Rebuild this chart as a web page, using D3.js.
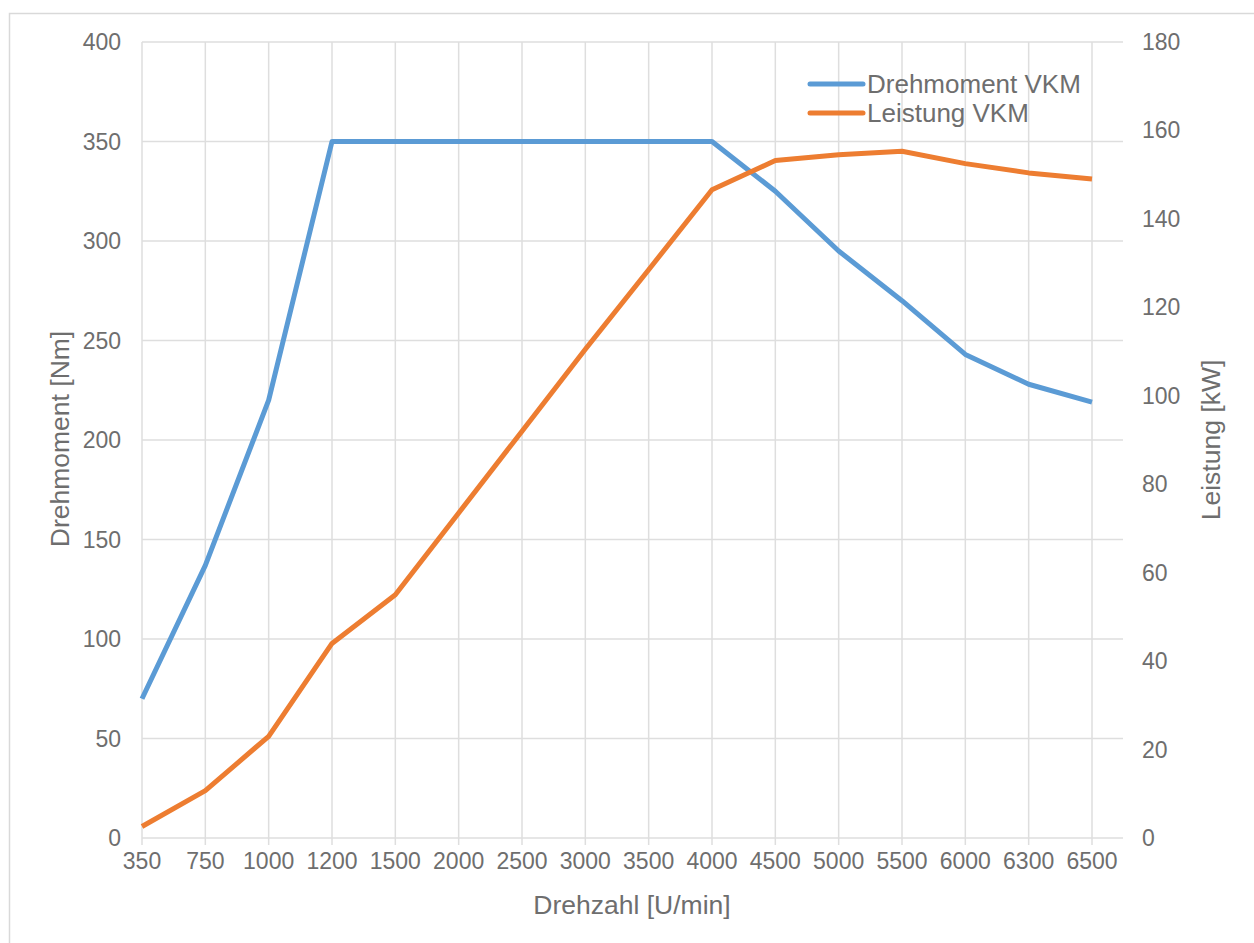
<!DOCTYPE html>
<html>
<head>
<meta charset="utf-8">
<script src="https://cdn.jsdelivr.net/npm/d3@7"></script>
<style>
  html, body { margin: 0; padding: 0; background: #fff; }
  svg { display: block; font-family: "Liberation Sans", Arial, sans-serif; }
</style>
</head>
<body>
<svg id="chart" width="1254" height="943"></svg>
<script>
// Engine speed categories [U/min]
const speeds = ["350", "750", "1000", "1200", "1500", "2000", "2500", "3000", "3500", "4000", "4500", "5000", "5500", "6000", "6300", "6500"];
// Torque [Nm]
const torque = [70, 137, 220, 350, 350, 350, 350, 350, 350, 350, 325, 295, 270, 243, 228, 219];
// Power [kW]
const power = [2.6, 10.7, 23.0, 44.0, 55.0, 73.5, 92.0, 110.5, 128.5, 146.6, 153.2, 154.5, 155.3, 152.5, 150.4, 149.0];
const torqueTicks = [0, 50, 100, 150, 200, 250, 300, 350, 400];
const powerTicks = [0, 20, 40, 60, 80, 100, 120, 140, 160, 180];
const seriesNames = ["Drehmoment VKM", "Leistung VKM"];

const textColor = "#6e6e6e";
const gridColor = "#dedede";
const colors = ["#5B9BD5", "#ED7D31"];

const svg = d3.select("#chart");

// chart area frame
svg.append("rect")
  .attr("x", 9.5).attr("y", 13.5)
  .attr("width", 1300).attr("height", 1000)
  .attr("fill", "#fff").attr("stroke", "#d9d9d9").attr("stroke-width", 1.5);

const plot = { left: 142, right: 1123, top: 42, bottom: 838 };

const x = d3.scalePoint().domain(speeds).range([plot.left, 1092]);
const yL = d3.scaleLinear().domain([0, 400]).range([plot.bottom, plot.top]);
const yR = d3.scaleLinear().domain([0, 180]).range([plot.bottom, plot.top]);

// horizontal gridlines (left axis)
svg.append("g").selectAll("line").data(torqueTicks).join("line")
  .attr("x1", plot.left).attr("x2", plot.right)
  .attr("y1", d => yL(d)).attr("y2", d => yL(d))
  .attr("stroke", gridColor).attr("stroke-width", 1.5);

// vertical gridlines at each category, extending below as tick marks
svg.append("g").selectAll("line").data(speeds).join("line")
  .attr("x1", d => x(d)).attr("x2", d => x(d))
  .attr("y1", plot.top).attr("y2", plot.bottom + 7)
  .attr("stroke", gridColor).attr("stroke-width", 1.5);

// left tick labels
svg.append("g").selectAll("text").data(torqueTicks).join("text")
  .attr("x", 121).attr("y", d => yL(d))
  .attr("dy", "0.35em").attr("text-anchor", "end")
  .attr("font-size", 23).attr("fill", textColor)
  .text(d => d);

// right tick labels
svg.append("g").selectAll("text").data(powerTicks).join("text")
  .attr("x", 1142).attr("y", d => yR(d))
  .attr("dy", "0.35em").attr("text-anchor", "start")
  .attr("font-size", 23).attr("fill", textColor)
  .text(d => d);

// category labels
svg.append("g").selectAll("text").data(speeds).join("text")
  .attr("x", d => x(d)).attr("y", 861)
  .attr("dy", "0.35em").attr("text-anchor", "middle")
  .attr("font-size", 23).attr("fill", textColor)
  .text(d => d);

// axis titles
svg.append("text")
  .attr("x", 632).attr("y", 905).attr("dy", "0.35em")
  .attr("text-anchor", "middle").attr("font-size", 26.5).attr("fill", textColor)
  .text("Drehzahl [U/min]");

svg.append("text")
  .attr("transform", "translate(60,439) rotate(-90)")
  .attr("dy", "0.35em")
  .attr("text-anchor", "middle").attr("font-size", 26.5).attr("fill", textColor)
  .text("Drehmoment [Nm]");

svg.append("text")
  .attr("transform", "translate(1211,440) rotate(-90)")
  .attr("dy", "0.35em")
  .attr("text-anchor", "middle").attr("font-size", 26.5).attr("fill", textColor)
  .text("Leistung [kW]");

// series lines
const lineT = d3.line().x((d, i) => x(speeds[i])).y(d => yL(d));
const lineP = d3.line().x((d, i) => x(speeds[i])).y(d => yR(d));

svg.append("path").datum(torque)
  .attr("d", lineT).attr("fill", "none")
  .attr("stroke", colors[0]).attr("stroke-width", 5)
  .attr("stroke-linejoin", "round");

svg.append("path").datum(power)
  .attr("d", lineP).attr("fill", "none")
  .attr("stroke", colors[1]).attr("stroke-width", 5)
  .attr("stroke-linejoin", "round");

// legend
const legend = svg.append("g").selectAll("g").data(seriesNames).join("g")
  .attr("transform", (d, i) => `translate(810,${84 + i * 29})`);
legend.append("line")
  .attr("x1", 0).attr("x2", 53).attr("y1", 0).attr("y2", 0)
  .attr("stroke", (d, i) => colors[i]).attr("stroke-width", 5)
  .attr("stroke-linecap", "round");
legend.append("text")
  .attr("x", 57).attr("y", 0).attr("dy", "0.35em")
  .attr("font-size", 26).attr("fill", textColor)
  .text(d => d);
</script>
</body>
</html>
